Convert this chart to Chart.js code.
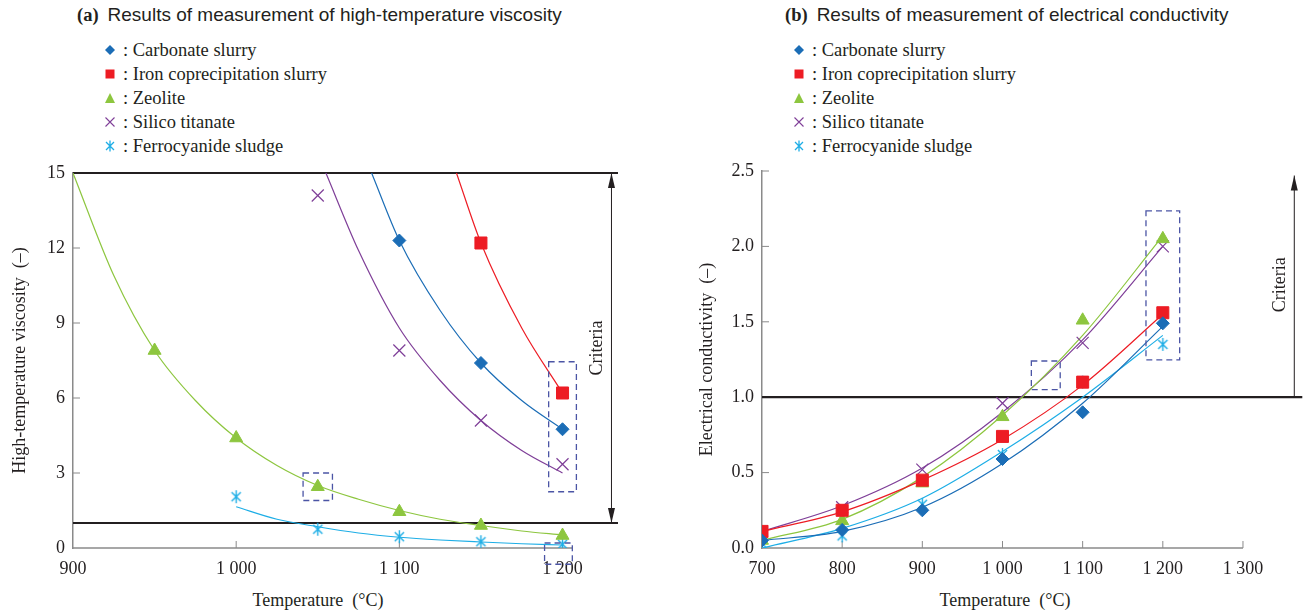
<!DOCTYPE html>
<html><head><meta charset="utf-8">
<script src="https://cdn.jsdelivr.net/npm/chart.js@4.4.1/dist/chart.umd.min.js"></script>
<style>
html,body{margin:0;padding:0;background:#fff;}
body{width:1312px;height:612px;position:relative;overflow:hidden;color:#231f20;}
.ttl{position:absolute;top:5px;font-size:19px;white-space:nowrap;line-height:20px;}
.ttl b{font-family:'Liberation Serif','Times New Roman',serif;font-weight:bold;margin-right:9px;font-size:18.5px;}
.ttl span{font-family:'Liberation Sans',Arial,sans-serif;}
.leg{position:absolute;top:38px;font-family:'Liberation Serif','Times New Roman',serif;font-size:18.5px;}
.leg .row{height:24px;display:flex;align-items:center;white-space:pre;}
.leg svg{width:14px;height:14px;margin-right:6px;flex:none;}
.xt{position:absolute;font-family:'Liberation Serif','Times New Roman',serif;font-size:18px;white-space:pre;transform:translateX(-50%);top:589px;line-height:22px;}
canvas{position:absolute;}
</style>
</head>
<body>
<div class="ttl" style="left:77px"><b>(a)</b><span>Results of measurement of high-temperature viscosity</span></div>
<div class="ttl" style="left:785px"><b>(b)</b><span>Results of measurement of electrical conductivity</span></div>
<div class="leg" id="legA" style="left:103px"></div>
<div class="leg" id="legB" style="left:792px"></div>
<div class="xt" style="left:318px">Temperature  (°C)</div>
<div class="xt" style="left:1005px">Temperature  (°C)</div>
<canvas id="cA" width="650" height="462" style="left:0;top:150px"></canvas>
<canvas id="cB" width="622" height="462" style="left:690px;top:150px"></canvas>
<script>
// ---------------- DATA ----------------
const seriesNames = ['Carbonate slurry','Iron coprecipitation slurry','Zeolite','Silico titanate','Ferrocyanide sludge'];

// (a) High-temperature viscosity — measured points
const viscCarbonateT = [1100, 1150, 1200];
const viscCarbonateV = [12.3, 7.4, 4.75];
const viscIronT = [1150, 1200];
const viscIronV = [12.2, 6.2];
const viscZeoliteT = [950, 1000, 1050, 1100, 1150, 1200];
const viscZeoliteV = [7.9, 4.4, 2.45, 1.45, 0.9, 0.5];
const viscSilicoT = [1050, 1100, 1150, 1200];
const viscSilicoV = [14.1, 7.9, 5.1, 3.35];
const viscFerroT = [1000, 1050, 1100, 1150, 1200];
const viscFerroV = [2.05, 0.75, 0.45, 0.25, 0.15];

// (a) fitted curves
const fitViscCarbonateT = [1083, 1100, 1125, 1150, 1175, 1200];
const fitViscCarbonateV = [15, 12.3, 9.5, 7.4, 5.9, 4.75];
const fitViscIronT = [1135, 1150, 1175, 1200];
const fitViscIronV = [15, 12.2, 8.8, 6.2];
const fitViscZeoliteT = [900, 925, 950, 975, 1000, 1025, 1050, 1075, 1100, 1125, 1150, 1175, 1200];
const fitViscZeoliteV = [15, 10.9, 7.9, 5.9, 4.4, 3.3, 2.5, 1.95, 1.5, 1.15, 0.9, 0.68, 0.52];
const fitViscSilicoT = [1055, 1075, 1100, 1125, 1150, 1175, 1200];
const fitViscSilicoV = [15, 11.9, 8.8, 6.7, 5.1, 3.9, 3.0];
const fitViscFerroT = [1000, 1025, 1050, 1075, 1100, 1125, 1150, 1175, 1200];
const fitViscFerroV = [1.65, 1.15, 0.85, 0.6, 0.43, 0.32, 0.24, 0.17, 0.12];

// (b) Electrical conductivity — measured points
const condT = [700, 800, 900, 1000, 1100, 1200];
const condCarbonateV = [0.05, 0.12, 0.25, 0.59, 0.9, 1.49];
const condIronV = [0.11, 0.25, 0.45, 0.74, 1.1, 1.56];
const condZeoliteV = [0.05, 0.18, 0.43, 0.87, 1.51, 2.05];
const condSilicoV = [0.11, 0.27, 0.52, 0.96, 1.36, 2.0];
const condFerroV = [0.03, 0.08, 0.29, 0.62, 1.1, 1.35];

// (b) fitted curves
const fitCondT = [700, 800, 900, 1000, 1100, 1200];
const fitCondCarbonateV = [0.05, 0.11, 0.27, 0.56, 0.96, 1.47];
const fitCondIronV = [0.11, 0.24, 0.45, 0.72, 1.08, 1.55];
const fitCondZeoliteV = [0.05, 0.19, 0.47, 0.88, 1.41, 2.07];
const fitCondSilicoV = [0.11, 0.28, 0.53, 0.9, 1.38, 2.0];
const fitCondFerroV = [0.0, 0.13, 0.33, 0.64, 1.0, 1.41];

// axes / tick labels
const xTicksA = [900, 1000, 1100, 1200];
const xLabelsA = ['900', '1 000', '1 100', '1 200'];
const yTicksA = [0, 3, 6, 9, 12, 15];
const yLabelsA = ['0', '3', '6', '9', '12', '15'];
const xTicksB = [700, 800, 900, 1000, 1100, 1200, 1300];
const xLabelsB = ['700', '800', '900', '1 000', '1 100', '1 200', '1 300'];
const yTicksB = [0, 0.5, 1.0, 1.5, 2.0, 2.5];
const yLabelsB = ['0.0', '0.5', '1.0', '1.5', '2.0', '2.5'];

// criteria levels
const criteriaA = [15, 1];
const criteriaB = [1.0];

// dashed highlight boxes [x0, x1, y0, y1] in data units
const boxesAX0 = [1041, 1191.5, 1189];
const boxesAX1 = [1059, 1208.5, 1206];
const boxesAY0 = [1.9, 2.25, -0.65];
const boxesAY1 = [3.0, 7.45, 0.2];
const boxesBX0 = [1036, 1179];
const boxesBX1 = [1072, 1221];
const boxesBY0 = [1.05, 1.247];
const boxesBY1 = [1.24, 2.235];

// ---------------- STYLE ----------------
const COL = ['#1b6db6', '#ed1c24', '#8dc63f', '#7f3f98', '#1eaee6'];
const INK = '#231f20';
const AXIS_GRAY = '#8a8a8a';
const BOX_COL = '#4b55a5';
const SERIF = "'Liberation Serif','Times New Roman',serif";

function asteriskCanvas(color, size) {
  const c = document.createElement('canvas');
  c.width = size; c.height = size;
  const g = c.getContext('2d');
  const m = size / 2, r = size / 2 - 1;
  g.strokeStyle = color; g.lineWidth = 1.4;
  g.beginPath();
  for (const ang of [90, 45, 135]) {
    const a = ang * Math.PI / 180;
    g.moveTo(m - r * Math.cos(a), m - r * Math.sin(a));
    g.lineTo(m + r * Math.cos(a), m + r * Math.sin(a));
  }
  g.stroke();
  return c;
}
const ferroImg = asteriskCanvas(COL[4], 15);

const markerStyles = [
  {pointStyle: 'rectRot', r: 6.5, bw: 1},
  {pointStyle: 'rect', r: 8.5, bw: 1},
  {pointStyle: 'triangle', r: 7.5, bw: 1},
  {pointStyle: 'crossRot', r: 8.5, bw: 1.2},
  {pointStyle: ferroImg, r: 7, bw: 1}
];

function pts(xs, ys) { return xs.map((x, i) => ({x: x, y: ys[i]})); }
function markerDS(i, xs, ys) {
  const s = markerStyles[i];
  return {type: 'scatter', label: seriesNames[i], data: pts(xs, ys), pointStyle: s.pointStyle,
    pointRadius: s.r, pointHoverRadius: s.r, backgroundColor: COL[i], borderColor: COL[i],
    borderWidth: s.bw, showLine: false, order: 0};
}
function curveDS(i, xs, ys) {
  return {type: 'line', label: seriesNames[i] + ' fit', data: pts(xs, ys), borderColor: COL[i],
    backgroundColor: COL[i], borderWidth: 1.2, pointRadius: 0, pointHoverRadius: 0,
    cubicInterpolationMode: 'monotone', fill: false, order: 1};
}

// ---------------- LEGEND (HTML) ----------------
const legendSvgs = [
  `<svg viewBox="0 0 14 14"><polygon points="7,2 12,7 7,12 2,7" fill="${COL[0]}"/></svg>`,
  `<svg viewBox="0 0 14 14"><rect x="2.5" y="2.5" width="9" height="9" fill="${COL[1]}"/></svg>`,
  `<svg viewBox="0 0 14 14"><polygon points="7,2 12,12 2,12" fill="${COL[2]}"/></svg>`,
  `<svg viewBox="0 0 14 14"><path d="M2.5 2.5 L11.5 11.5 M11.5 2.5 L2.5 11.5" stroke="${COL[3]}" stroke-width="1.1"/></svg>`,
  `<svg viewBox="0 0 14 14"><path d="M7 1.5 L7 12.5 M3 3 L11 11 M3 11 L11 3" stroke="${COL[4]}" stroke-width="1.3"/></svg>`
];
for (const id of ['legA', 'legB']) {
  const el = document.getElementById(id);
  el.innerHTML = seriesNames.map((n, i) => `<div class="row">${legendSvgs[i]}<span>: ${n}</span></div>`).join('');
}

// ---------------- DECORATION PLUGIN ----------------
function line(ctx, x0, y0, x1, y1) { ctx.beginPath(); ctx.moveTo(x0, y0); ctx.lineTo(x1, y1); ctx.stroke(); }
function arrowHead(ctx, x, yTip, dir) { // dir -1 = pointing up, +1 = pointing down
  ctx.beginPath();
  ctx.moveTo(x, yTip);
  ctx.lineTo(x - 3.5, yTip - dir * 15);
  ctx.lineTo(x + 3.5, yTip - dir * 15);
  ctx.closePath(); ctx.fill();
}
function decoPlugin(cfg) {
  return {
    id: 'deco' + cfg.id,
    beforeDatasetsDraw(chart) {
      const {ctx, chartArea: a} = chart;
      const x = chart.scales.x, y = chart.scales.y;
      ctx.save();
      const yb = y.getPixelForValue(cfg.ymin);
      ctx.strokeStyle = AXIS_GRAY; ctx.lineWidth = 1.5;
      line(ctx, a.left, yb, x.getPixelForValue(cfg.xAxisEnd), yb);
      ctx.lineWidth = 1;
      cfg.xTicks.forEach(v => { if (v === cfg.xmin) return; const px = x.getPixelForValue(v); line(ctx, px, yb, px, yb - 7); });
      cfg.yTicks.forEach(v => { if (v === cfg.ymin) return; const py = y.getPixelForValue(v); line(ctx, a.left, py, a.left + 7, py); });
      ctx.strokeStyle = INK; ctx.lineWidth = 2.2;
      cfg.criteria.forEach(v => { const py = y.getPixelForValue(v); line(ctx, a.left, py, a.right, py); });
      // criteria arrow
      ctx.lineWidth = 1; ctx.fillStyle = INK; ctx.strokeStyle = INK;
      const ax = x.getPixelForValue(cfg.arrowX);
      const yTop = y.getPixelForValue(cfg.arrowTop), yBot = y.getPixelForValue(cfg.arrowBot);
      line(ctx, ax, yTop, ax, yBot);
      arrowHead(ctx, ax, yTop, -1);
      if (cfg.doubleArrow) arrowHead(ctx, ax, yBot, 1);
      // label
      ctx.save();
      ctx.translate(x.getPixelForValue(cfg.labelX), y.getPixelForValue(cfg.labelY));
      ctx.rotate(-Math.PI / 2);
      ctx.font = '18px ' + SERIF; ctx.textAlign = 'center'; ctx.textBaseline = 'middle';
      ctx.fillText('Criteria', 0, 0);
      ctx.restore();
      ctx.restore();
    },
    afterDatasetsDraw(chart) {
      const {ctx} = chart;
      const x = chart.scales.x, y = chart.scales.y;
      ctx.save();
      ctx.strokeStyle = BOX_COL; ctx.lineWidth = 1.3; ctx.setLineDash([6, 4]);
      cfg.bx0.forEach((v, i) => {
        const l = x.getPixelForValue(v), r = x.getPixelForValue(cfg.bx1[i]);
        const t = y.getPixelForValue(cfg.by1[i]), b = y.getPixelForValue(cfg.by0[i]);
        ctx.strokeRect(l, t, r - l, b - t);
      });
      ctx.restore();
    }
  };
}

function makeOptions(cfg) {
  return {
    responsive: false, animation: false, events: [],
    layout: {padding: {left: 0, right: cfg.padR, top: cfg.padT, bottom: 0}},
    plugins: {legend: {display: false}, tooltip: {enabled: false}},
    scales: {
      x: {
        type: 'linear', min: cfg.xmin, max: cfg.xmax,
        grid: {display: false, drawTicks: false}, border: {display: false},
        afterBuildTicks: s => { s.ticks = cfg.xTicks.map(v => ({value: v})); },
        afterFit: s => { s.height = 64; },
        ticks: {font: {family: SERIF, size: 18}, color: INK, padding: 10, maxRotation: 0, autoSkip: false,
          callback: (v, i) => cfg.xLabels[i]}
      },
      y: {
        type: 'linear', min: cfg.ymin, max: cfg.ymax,
        grid: {display: false, drawTicks: false}, border: {display: true, color: AXIS_GRAY, width: 1.5},
        afterBuildTicks: s => { s.ticks = cfg.yTicks.map(v => ({value: v})); },
        afterFit: s => { s.width = cfg.yw; },
        ticks: {font: {family: SERIF, size: 18}, color: INK, padding: 8, autoSkip: false,
          callback: (v, i) => cfg.yLabels[i]},
        title: {display: true, text: cfg.yTitle, font: {family: SERIF, size: 18}, color: INK,
          padding: {top: cfg.yTitlePad, bottom: 0}}
      }
    }
  };
}

// ---------------- CHART (a) ----------------
const cfgA = {id: 'A', xmin: 900, xmax: 1234, ymin: 0, ymax: 15, xTicks: xTicksA, xLabels: xLabelsA,
  yTicks: yTicksA, yLabels: yLabelsA, yw: 73, padR: 32, padT: 23, yTitlePad: 9,
  yTitle: 'High-temperature viscosity  (–)', xAxisEnd: 1206, criteria: criteriaA,
  arrowX: 1230, arrowTop: 15, arrowBot: 1, doubleArrow: true, labelX: 1221, labelY: 8.0,
  bx0: boxesAX0, bx1: boxesAX1, by0: boxesAY0, by1: boxesAY1};

new Chart(document.getElementById('cA'), {
  type: 'scatter',
  data: {datasets: [
    markerDS(0, viscCarbonateT, viscCarbonateV),
    markerDS(1, viscIronT, viscIronV),
    markerDS(2, viscZeoliteT, viscZeoliteV),
    markerDS(3, viscSilicoT, viscSilicoV),
    markerDS(4, viscFerroT, viscFerroV),
    curveDS(0, fitViscCarbonateT, fitViscCarbonateV),
    curveDS(1, fitViscIronT, fitViscIronV),
    curveDS(2, fitViscZeoliteT, fitViscZeoliteV),
    curveDS(3, fitViscSilicoT, fitViscSilicoV),
    curveDS(4, fitViscFerroT, fitViscFerroV)
  ]},
  options: makeOptions(cfgA),
  plugins: [decoPlugin(cfgA)]
});

// ---------------- CHART (b) ----------------
const cfgB = {id: 'B', xmin: 700, xmax: 1374, ymin: 0, ymax: 2.5, xTicks: xTicksB, xLabels: xLabelsB,
  yTicks: yTicksB, yLabels: yLabelsB, yw: 72, padR: 5, padT: 21, yTitlePad: 6,
  yTitle: 'Electrical conductivity  (–)', xAxisEnd: 1300, criteria: criteriaB,
  arrowX: 1364, arrowTop: 2.47, arrowBot: 1.0, doubleArrow: false, labelX: 1347, labelY: 1.745,
  bx0: boxesBX0, bx1: boxesBX1, by0: boxesBY0, by1: boxesBY1};

new Chart(document.getElementById('cB'), {
  type: 'scatter',
  data: {datasets: [
    markerDS(0, condT, condCarbonateV),
    markerDS(1, condT, condIronV),
    markerDS(2, condT, condZeoliteV),
    markerDS(3, condT, condSilicoV),
    markerDS(4, condT, condFerroV),
    curveDS(0, fitCondT, fitCondCarbonateV),
    curveDS(1, fitCondT, fitCondIronV),
    curveDS(2, fitCondT, fitCondZeoliteV),
    curveDS(3, fitCondT, fitCondSilicoV),
    curveDS(4, fitCondT, fitCondFerroV)
  ]},
  options: makeOptions(cfgB),
  plugins: [decoPlugin(cfgB)]
});
</script>
</body></html>
